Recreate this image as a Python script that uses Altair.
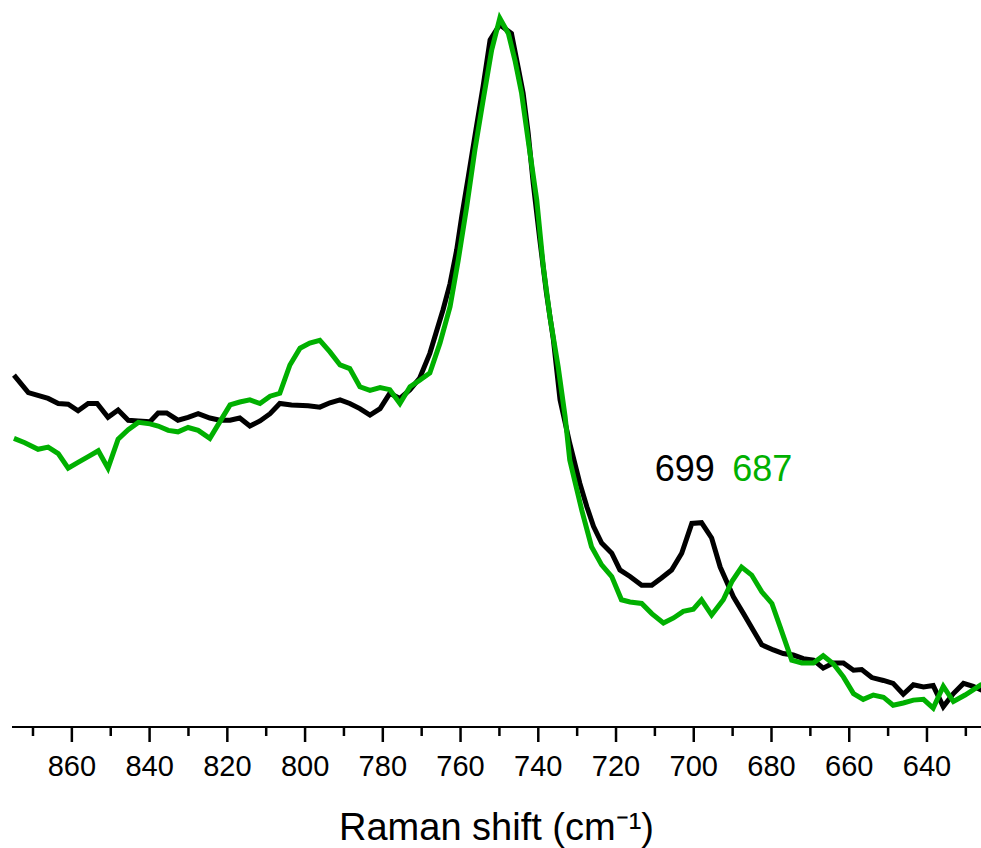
import altair as alt
import pandas as pd

# Black spectrum (Raman shift cm-1, intensity a.u.)
black_x = [874.9, 871.2, 866.1, 863.5, 860.95, 858.4, 855.8, 853.5, 850.7, 848.1,
           845.5, 842.9, 839.9, 837.8, 835.6, 832.7, 830.1, 827.5, 824.5, 821.9,
           819.3, 816.8, 814.2, 811.6, 809.0, 806.5, 803.5, 799.2, 796.2, 793.6,
           791.0, 788.5, 785.9, 783.3, 780.7, 778.2, 775.6, 773.0, 770.5, 767.9,
           764.5, 762.7, 761.0, 759.7, 758.0, 755.9, 754.2, 752.4, 749.9, 746.9,
           745.2, 743.9, 742.6, 741.3, 739.6, 737.9, 736.1, 734.4, 731.9, 729.3,
           727.5, 725.8, 723.7, 721.1, 719.0, 716.4, 713.4, 710.8, 708.3, 705.7,
           703.1, 700.5, 698.0, 695.4, 693.2, 689.8, 687.2, 684.7, 682.5, 679.5,
           677.0, 674.4, 671.8, 669.2, 666.7, 664.1, 661.5, 658.9, 656.8, 654.2,
           651.2, 648.7, 646.1, 643.5, 640.9, 638.4, 635.8, 633.2, 630.6, 628.1,
           626.1, 625.0]
black_y = [48.4, 46.0, 45.2, 44.5, 44.4, 43.5, 44.5, 44.5, 42.6, 43.6,
           42.2, 42.1, 42.0, 43.2, 43.2, 42.2, 42.6, 43.1, 42.5, 42.2,
           42.2, 42.5, 41.4, 42.1, 43.1, 44.5, 44.3, 44.2, 44.0, 44.6,
           45.0, 44.5, 43.8, 42.9, 43.8, 45.9, 45.2, 46.4, 48.0, 51.4,
           57.4, 61.0, 65.6, 70.2, 75.7, 82.6, 88.1, 94.5, 96.6, 95.4,
           90.8, 87.2, 81.7, 74.8, 67.0, 59.7, 53.2, 45.0, 39.0, 33.5,
           30.3, 27.6, 25.3, 23.9, 21.6, 20.7, 19.5, 19.5, 20.5, 21.6,
           23.9, 28.0, 28.1, 26.0, 22.0, 17.9, 15.6, 13.3, 11.3, 10.6,
           10.1, 9.9, 9.4, 9.2, 8.1, 8.8, 8.8, 7.8, 7.9, 6.8,
           6.4, 6.0, 4.5, 5.8, 5.5, 5.7, 2.8, 4.6, 6.0, 5.6,
           5.1, 5.0]

# Green spectrum
green_x = [874.9, 872.1, 868.7, 866.1, 863.5, 860.95, 858.4, 855.8, 853.2, 850.7,
           848.1, 845.5, 842.9, 839.9, 837.8, 835.2, 832.7, 830.1, 827.5, 824.5,
           821.9, 819.3, 816.8, 814.2, 811.6, 809.0, 806.5, 803.9, 801.3, 798.8,
           796.2, 793.6, 791.0, 788.5, 785.9, 783.3, 780.7, 778.2, 775.6, 773.0,
           770.5, 767.9, 765.3, 762.7, 760.6, 758.4, 756.3, 754.2, 752.0, 749.9,
           747.7, 746.0, 744.3, 742.6, 740.4, 738.7, 737.0, 734.9, 733.1, 731.9,
           728.8, 726.3, 723.7, 721.1, 718.6, 716.4, 713.4, 710.8, 707.8, 705.2,
           702.7, 700.1, 698.0, 695.4, 692.4, 690.2, 687.7, 685.1, 682.5, 679.9,
           677.8, 674.8, 672.2, 669.2, 666.7, 664.1, 661.5, 658.9, 656.4, 653.8,
           651.2, 648.7, 646.1, 643.5, 640.9, 638.4, 635.8, 633.2, 630.2, 626.1,
           625.0]
green_y = [39.7, 39.1, 38.2, 38.5, 37.6, 35.6, 36.4, 37.2, 38.0, 35.6,
           39.6, 40.9, 41.9, 41.7, 41.4, 40.8, 40.6, 41.2, 40.8, 39.7,
           42.0, 44.3, 44.7, 45.0, 44.5, 45.5, 45.9, 49.8, 52.1, 52.8,
           53.2, 51.6, 49.8, 49.3, 46.8, 46.3, 46.7, 46.4, 44.5, 46.8,
           47.7, 48.7, 52.8, 57.8, 64.2, 71.6, 79.4, 86.2, 93.1, 97.5,
           95.4, 91.7, 87.2, 80.7, 72.5, 63.3, 56.4, 49.6, 42.7, 36.7,
           29.8, 24.8, 22.3, 20.7, 17.5, 17.2, 17.0, 15.6, 14.3, 15.0,
           15.9, 16.2, 17.5, 15.4, 17.5, 20.0, 22.0, 20.9, 18.6, 17.0,
           13.8, 9.2, 8.8, 8.8, 9.8, 8.7, 6.9, 4.6, 3.8, 4.4,
           4.1, 3.0, 3.3, 3.7, 3.8, 2.6, 5.6, 3.5, 4.4, 5.8,
           6.0]

# Peak annotations
label_text = ["699", "687"]
label_x = [702.3, 682.4]
label_y = [35.4, 35.4]
label_series = ["black", "green"]

major_ticks = [860, 840, 820, 800, 780, 760, 740, 720, 700, 680, 660, 640]
minor_ticks = [870, 850, 830, 810, 790, 770, 750, 730, 710, 690, 670, 650, 630]
x_title = ["Raman shift (cm\u207b\u00b9)"]

series_colors = {"black": "#000000", "green": "#00b000"}

df = pd.concat([
    pd.DataFrame({"shift": black_x, "intensity": black_y, "series": "black",
                  "order": range(len(black_x))}),
    pd.DataFrame({"shift": green_x, "intensity": green_y, "series": "green",
                  "order": range(len(green_x))}),
], ignore_index=True)
labels_df = pd.DataFrame({"shift": label_x, "intensity": label_y,
                          "text": label_text, "series": label_series})
major_df = pd.DataFrame({"tick": major_ticks,
                         "ticklabel": [str(v) for v in major_ticks]})
minor_df = pd.DataFrame({"tick": minor_ticks})
title_df = pd.DataFrame({"title": x_title})

xscale = alt.Scale(domain=[626.1, 875.4], reverse=True, nice=False, zero=False)
yscale = alt.Scale(domain=[0, 100], nice=False, zero=True)
color_scale = alt.Scale(domain=list(series_colors.keys()),
                        range=list(series_colors.values()))

lines = alt.Chart(df).mark_line(strokeWidth=5, clip=True).encode(
    x=alt.X("shift:Q", scale=xscale, axis=None),
    y=alt.Y("intensity:Q", scale=yscale, axis=None),
    color=alt.Color("series:N", scale=color_scale, legend=None),
    order="order:Q",
)

texts = alt.Chart(labels_df).mark_text(font="Liberation Sans", fontSize=36,
                                       align="center", baseline="middle").encode(
    x=alt.X("shift:Q", scale=xscale, axis=None),
    y=alt.Y("intensity:Q", scale=yscale, axis=None),
    text="text:N",
    color=alt.Color("series:N", scale=color_scale, legend=None),
)

# Axis drawn from marks: base line, major/minor ticks, tick labels, title
base_line = alt.Chart(title_df).mark_rule(color="black", strokeWidth=2,
                                          clip=False).encode(
    x=alt.value(0), x2=alt.value(969), y=alt.value(727),
)
major_rules = alt.Chart(major_df).mark_rule(color="black", strokeWidth=2.5,
                                            clip=False).encode(
    x=alt.X("tick:Q", scale=xscale, axis=None),
    y=alt.value(726), y2=alt.value(742),
)
minor_rules = alt.Chart(minor_df).mark_rule(color="black", strokeWidth=2.5,
                                            clip=False).encode(
    x=alt.X("tick:Q", scale=xscale, axis=None),
    y=alt.value(726), y2=alt.value(736),
)
tick_labels = alt.Chart(major_df).mark_text(font="Liberation Sans", fontSize=29,
                                            color="black", align="center",
                                            baseline="alphabetic").encode(
    x=alt.X("tick:Q", scale=xscale, axis=None),
    y=alt.value(776),
    text="ticklabel:N",
)
axis_title = alt.Chart(title_df).mark_text(font="Liberation Sans", fontSize=38,
                                           color="black", align="center",
                                           baseline="alphabetic").encode(
    x=alt.value(484.5), y=alt.value(840), text="title:N",
)

chart = alt.layer(tick_labels, axis_title, texts, lines, base_line,
                  major_rules, minor_rules).properties(
    width=969, height=727,
    autosize=alt.AutoSizeParams(type="none"),
    padding={"left": 12, "top": 0, "right": 0, "bottom": 121},
).configure_view(stroke=None)

chart.save("out.html", embed_options={"renderer": "svg", "actions": False})
